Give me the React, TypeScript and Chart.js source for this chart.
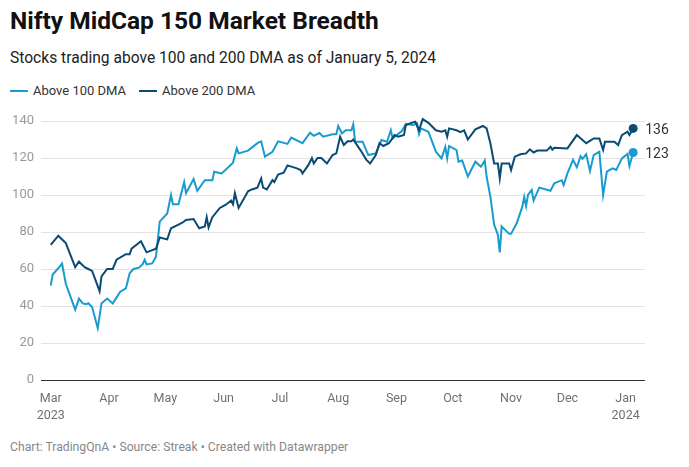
import React, { useEffect, useRef } from "react";
import { Chart, registerables } from "chart.js";

Chart.register(...registerables);

// Day offsets are counted from 1 March 2023
const dma100Days = [0,1,5,6,8,13,15,17,19,20,22,25,27,30,33,37,40,42,44,47,49,50,51,54,56,58,62,64,65,68,71,72,76,78,82,86,87,91,97,99,100,105,110,112,114,118,121,126,128,134,138,140,143,145,150,152,153,155,157,160,161,162,166,169,173,176,179,181,182,187,189,193,195,196,197,201,205,208,210,211,212,216,217,219,222,226,229,231,232,234,236,238,239,240,244,245,248,251,252,253,254,256,257,260,266,268,272,273,275,278,280,282,283,285,287,289,292,294,296,299,301,304,307,308,310];
const dma100Values = [51,57,61.6,63,52,38,44,41.4,41,41.5,39.5,28,41.4,44,41.4,47.7,49.5,57.7,60,60.7,62.7,65,62.5,63,66.6,85.6,90,100,95,95,107,101,108.6,102.3,108,108,112.6,111.7,117.5,125.2,122.5,124,128,129,120.7,123.4,129,127.6,131,128,133.7,132,133.5,131.5,132.8,132.8,137.3,133.3,135,135,138.2,128.8,128.8,121.6,122.5,129.7,128.8,135,130.6,134.7,138.4,137.8,138.7,133,136,134.2,123.4,119.8,126,119.8,126.5,124.3,118,118.6,110,118,115.3,118.6,110,99,84,78.4,69,83,79,79,84.7,93.7,99,94,100,102.7,97,104,102.3,106.3,108,105.4,111.7,119,115,121,119.5,122,113,121.6,123.4,100,112.6,114.4,113.5,119.8,122.2,115.7,123];

const dma200Days = [0,4,7,8,13,15,18,20,22,26,27,30,33,35,40,42,43,48,49,51,56,58,62,64,68,70,72,76,79,82,83,84,86,90,93,96,97,98,100,105,107,110,112,113,115,118,119,121,124,126,131,133,134,137,139,140,142,144,147,150,152,154,156,158,160,161,165,168,170,173,175,177,180,183,185,188,189,192,194,196,198,201,205,208,210,211,212,216,218,220,222,226,230,232,234,236,238,239,240,244,245,247,250,253,255,257,259,264,266,267,268,275,280,285,289,292,294,295,300,302,304,307,308,310];
const dma200Values = [73,78,75,74,61,64,61,60,59,48,56,60,60,65,68,68,71,75,73,69,71,77,76,82,84,85,86.5,87,82,83,88,82.5,88,93,94.6,97,95,101,93,102,103,104,109,104,103,108,107,111,112,116,114.4,113.5,111.7,116,120,117,120,120,117,121.6,122.5,131.5,127,129,129,130,124,119,117,121.6,128,126.5,128,132.4,131.5,132.4,137.8,139,139.6,135,141,139,135,134.2,135,131.5,136,135,134,135,130,135.5,137.3,136,128,117,117,109,117,117,113.5,120.7,122,122.5,124.7,123,124,124,126,124.5,125.5,125.2,132.4,128,130.6,130.6,124.3,128.8,128.8,127,132.4,134.2,132.4,136];

const seriesNames = ["Above 100 DMA", "Above 200 DMA"];
const yTickValues = [0, 20, 40, 60, 80, 100, 120, 140];
const monthTickDays = [0, 31, 61, 92, 122, 153, 184, 214, 245, 275, 306];
const monthTickLabels: (string | string[])[] = [["Mar", "2023"], "Apr", "May", "Jun", "Jul", "Aug", "Sep", "Oct", "Nov", "Dec", ["Jan", "2024"]];

const titleText = "Nifty MidCap 150 Market Breadth";
const subtitleText = "Stocks trading above 100 and 200 DMA as of January 5, 2024";
const footerText = "Chart: TradingQnA \u2022 Source: Streak \u2022 Created with Datawrapper";

const LIGHT = "#1a9bd0";
const DARK = "#0b4a73";
const FONT = "Roboto, 'Noto Sans', sans-serif";

const endLabels = {
  id: "endLabels",
  afterDatasetsDraw(chart: any) {
    const ctx = chart.ctx;
    ctx.save();
    ctx.font = `14px ${FONT}`;
    ctx.fillStyle = "#333";
    ctx.textBaseline = "middle";
    ctx.textAlign = "left";
    chart.data.datasets.forEach((ds: any, i: number) => {
      const meta = chart.getDatasetMeta(i);
      const pt = meta.data[meta.data.length - 1];
      const v = ds.data[ds.data.length - 1].y;
      ctx.fillText(String(Math.round(v)), pt.x + 12, pt.y + 2);
    });
    ctx.restore();
  },
};

export default function App() {
  const ref = useRef<HTMLCanvasElement | null>(null);

  useEffect(() => {
    if (!ref.current) return;
    const mk = (days: number[], vals: number[]) => days.map((d, i) => ({ x: d, y: vals[i] }));
    const lastRadius = (n: number) => (c: any) => (c.dataIndex === n - 1 ? 4.5 : 0);
    const chart = new Chart(ref.current, {
      type: "line",
      data: {
        datasets: [
          {
            label: seriesNames[1],
            data: mk(dma200Days, dma200Values),
            borderColor: DARK,
            backgroundColor: DARK,
            borderWidth: 2,
            pointRadius: lastRadius(dma200Days.length),
            pointHoverRadius: 0,
            pointBorderWidth: 0,
            tension: 0,
            clip: false,
          } as any,
          {
            label: seriesNames[0],
            data: mk(dma100Days, dma100Values),
            borderColor: LIGHT,
            backgroundColor: LIGHT,
            borderWidth: 2,
            pointRadius: lastRadius(dma100Days.length),
            pointHoverRadius: 0,
            pointBorderWidth: 0,
            tension: 0,
            clip: false,
          } as any,
        ],
      },
      options: {
        animation: false,
        responsive: false,
        events: [],
        layout: { padding: { top: 16, right: 44, left: 0, bottom: 0 } },
        plugins: { legend: { display: false }, tooltip: { enabled: false }, title: { display: false } },
        scales: {
          x: {
            type: "linear",
            min: -5.2,
            max: 316.3,
            grid: { display: false },
            border: { display: false },
            afterBuildTicks: (axis: any) => {
              axis.ticks = monthTickDays.map((v) => ({ value: v }));
            },
            afterFit: (axis: any) => {
              axis.height = 45;
            },
            ticks: {
              autoSkip: false,
              maxRotation: 0,
              padding: 3,
              color: "#707070",
              font: { family: FONT, size: 12.5, lineHeight: 1.3 },
              callback: (v: any) => {
                const i = monthTickDays.indexOf(Number(v));
                return i >= 0 ? monthTickLabels[i] : "";
              },
            },
          },
          y: {
            min: 0,
            max: 140,
            afterBuildTicks: (axis: any) => {
              axis.ticks = yTickValues.map((v) => ({ value: v }));
            },
            afterFit: (axis: any) => {
              axis.width = 41;
            },
            grid: {
              drawTicks: false,
              color: (c: any) => (c.tick && c.tick.value === 0 ? "#333" : "#e3e3e3"),
              lineWidth: 1,
            },
            border: { display: false },
            ticks: { padding: 7, color: "#999", font: { family: FONT, size: 13 } },
          },
        },
      } as any,
      plugins: [endLabels],
    });
    return () => chart.destroy();
  }, []);

  return (
    <div style={{ position: "absolute", left: 0, top: 0, width: 689, height: 467, background: "#fff", fontFamily: FONT, overflow: "hidden" }}>
      <div style={{ position: "absolute", left: 10, top: 7, fontSize: 24.5, lineHeight: "28px", fontWeight: 700, color: "#111", whiteSpace: "nowrap" }}>{titleText}</div>
      <div style={{ position: "absolute", left: 10, top: 49, fontSize: 15.6, lineHeight: "19px", color: "#222", whiteSpace: "nowrap" }}>{subtitleText}</div>
      <div style={{ position: "absolute", left: 10, top: 83, fontSize: 13, lineHeight: "16px", color: "#333", display: "flex", alignItems: "center", whiteSpace: "nowrap" }}>
        <span style={{ display: "inline-block", width: 18, height: 2, background: LIGHT, marginRight: 5 }} />
        <span style={{ marginRight: 13 }}>{seriesNames[0]}</span>
        <span style={{ display: "inline-block", width: 18, height: 2, background: DARK, marginRight: 5 }} />
        <span>{seriesNames[1]}</span>
      </div>
      <div style={{ position: "absolute", left: 0, top: 105, width: 689, height: 320 }}>
        <canvas ref={ref} width={689} height={320} style={{ display: "block" }} />
      </div>
      <div style={{ position: "absolute", left: 10, top: 440, fontSize: 12.2, lineHeight: "14px", color: "#888", whiteSpace: "nowrap" }}>{footerText}</div>
    </div>
  );
}
